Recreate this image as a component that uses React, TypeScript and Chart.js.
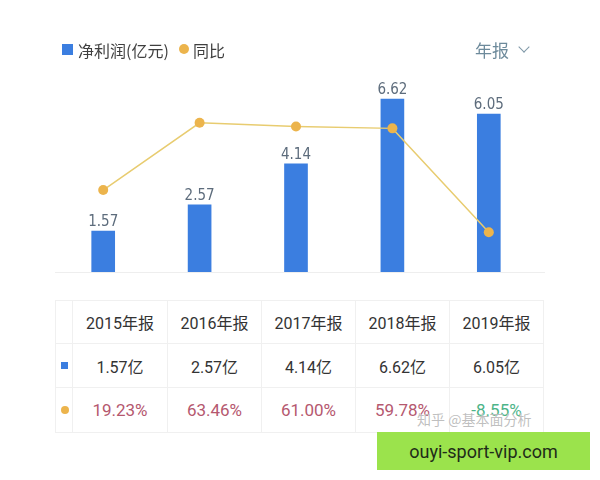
import React, { useEffect, useRef } from "react";
import { Chart, registerables } from "chart.js";

Chart.register(...registerables);

// ---- data ----
const categories = ["2015年报", "2016年报", "2017年报", "2018年报", "2019年报"];
const netProfit = [1.57, 2.57, 4.14, 6.62, 6.05];
const yoy = [19.23, 63.46, 61.0, 59.78, -8.55];
const profitAxisRange = [0, 7.35];
const yoyAxisRange = [-34.7, 91.6];
const legendLabels = ["净利润(亿元)", "同比"];
const periodLabel = "年报";
const watermark = "知乎 @基本面分析";
const siteLabel = "ouyi-sport-vip.com";

// ---- styles ----
const BLUE = "#3b7ee0";
const ORANGE = "#ecb44c";
const LINE = "#e8cc70";
const LABEL = "#5d6c7c";
const CJK = '"Noto Sans CJK SC", sans-serif';
const NUM = 'Roboto, "Noto Sans CJK SC", sans-serif';
const BORDER = "1px solid #f0f0f0";

const barLabelPlugin = {
  id: "barLabels",
  afterDatasetsDraw(chart: any) {
    const meta = chart.getDatasetMeta(0);
    const ctx = chart.ctx;
    ctx.save();
    ctx.font = '15px "DejaVu Sans Condensed", "Liberation Sans Narrow", Roboto, sans-serif';
    ctx.fillStyle = LABEL;
    ctx.textAlign = "center";
    ctx.textBaseline = "bottom";
    meta.data.forEach((el: any, i: number) => {
      ctx.fillText(netProfit[i].toFixed(2), el.x, el.y - 1);
    });
    ctx.restore();
  },
};

const baselinePlugin = {
  id: "baseline",
  beforeDatasetsDraw(chart: any) {
    const { ctx, chartArea, scales } = chart;
    const y = Math.round(scales.y.getPixelForValue(0)) + 0.5;
    ctx.save();
    ctx.strokeStyle = "#eeeeee";
    ctx.lineWidth = 1;
    ctx.beginPath();
    ctx.moveTo(chartArea.left, y);
    ctx.lineTo(chartArea.right + 8, y);
    ctx.stroke();
    ctx.restore();
  },
};

function ChartCanvas() {
  const ref = useRef<HTMLCanvasElement>(null);
  useEffect(() => {
    if (!ref.current) return;
    const chart = new Chart(ref.current, {
      type: "bar",
      data: {
        labels: categories,
        datasets: [
          {
            type: "bar",
            data: netProfit,
            yAxisID: "y",
            backgroundColor: BLUE,
            barThickness: 23,
            order: 1,
          } as any,
          {
            type: "line",
            data: yoy,
            yAxisID: "y2",
            borderColor: LINE,
            borderWidth: 1.5,
            pointRadius: 5,
            pointBackgroundColor: ORANGE,
            pointBorderWidth: 0,
            tension: 0,
            order: 0,
          } as any,
        ],
      },
      options: {
        responsive: false,
        animation: false,
        devicePixelRatio: 1,
        layout: { padding: { left: 55, right: 63, top: 80, bottom: 18 } },
        plugins: { legend: { display: false }, tooltip: { enabled: false } },
        scales: {
          x: { display: false, offset: true },
          y: { display: false, min: profitAxisRange[0], max: profitAxisRange[1] },
          y2: { display: false, min: yoyAxisRange[0], max: yoyAxisRange[1] },
        },
      },
      plugins: [baselinePlugin, barLabelPlugin],
    });
    return () => chart.destroy();
  }, []);
  return (
    <canvas
      ref={ref}
      width={600}
      height={290}
      style={{ position: "absolute", left: 0, top: 0, width: 600, height: 290 }}
    />
  );
}

function DataTable() {
  const colW = [17, 95, 94, 94, 94, 94];
  const rowH = [43, 44, 45];
  const cell = (content: React.ReactNode, key: string, style: React.CSSProperties = {}) => (
    <div
      key={key}
      style={{
        boxSizing: "border-box",
        borderRight: BORDER,
        borderBottom: BORDER,
        display: "flex",
        alignItems: "center",
        justifyContent: "center",
        ...style,
      }}
    >
      {content}
    </div>
  );
  const cells: React.ReactNode[] = [];
  cells.push(cell(null, "h0"));
  categories.forEach((c, i) =>
    cells.push(cell(c, "h" + (i + 1), { fontFamily: NUM, fontSize: 16, color: "#333" }))
  );
  cells.push(
    cell(<div style={{ width: 7, height: 7, background: BLUE, marginLeft: 1 }} />, "b0")
  );
  netProfit.forEach((v, i) =>
    cells.push(cell(v.toFixed(2) + "亿", "b" + (i + 1), { fontFamily: NUM, fontSize: 16, color: "#333" }))
  );
  cells.push(
    cell(<div style={{ width: 8, height: 8, borderRadius: 4, background: ORANGE, marginLeft: 1 }} />, "o0")
  );
  yoy.forEach((v, i) =>
    cells.push(
      cell(v.toFixed(2) + "%", "o" + (i + 1), {
        fontFamily: NUM,
        fontSize: 17,
        color: v < 0 ? "#4db489" : "#b5586f",
      })
    )
  );
  return (
    <div
      style={{
        position: "absolute",
        left: 55,
        top: 300,
        display: "grid",
        gridTemplateColumns: colW.map((w) => w + "px").join(" "),
        gridTemplateRows: rowH.map((h) => h + "px").join(" "),
        borderTop: BORDER,
        borderLeft: BORDER,
      }}
    >
      {cells}
    </div>
  );
}

export default function App() {
  return (
    <div
      style={{
        position: "fixed",
        left: 0,
        top: 0,
        width: 600,
        height: 480,
        background: "#fff",
        overflow: "hidden",
      }}
    >
      <ChartCanvas />
      {/* legend */}
      <div style={{ position: "absolute", left: 62, top: 44, width: 11, height: 11, background: BLUE }} />
      <div
        style={{
          position: "absolute",
          left: 78,
          top: 39,
          height: 22,
          lineHeight: "22px",
          fontFamily: CJK,
          fontSize: 16,
          color: "#3f3f3f",
          whiteSpace: "nowrap",
        }}
      >
        {legendLabels[0]}
      </div>
      <div
        style={{ position: "absolute", left: 179, top: 44, width: 10, height: 10, borderRadius: 5, background: ORANGE }}
      />
      <div
        style={{
          position: "absolute",
          left: 193,
          top: 39,
          height: 22,
          lineHeight: "22px",
          fontFamily: CJK,
          fontSize: 16,
          color: "#3f3f3f",
          whiteSpace: "nowrap",
        }}
      >
        {legendLabels[1]}
      </div>
      <div
        style={{
          position: "absolute",
          left: 475,
          top: 39,
          height: 22,
          lineHeight: "22px",
          fontFamily: CJK,
          fontSize: 17,
          color: "#6d8a9b",
          whiteSpace: "nowrap",
        }}
      >
        {periodLabel}
      </div>
      <div
        style={{
          position: "absolute",
          left: 520,
          top: 43,
          width: 7,
          height: 7,
          borderRight: "1.5px solid #7f98a8",
          borderBottom: "1.5px solid #7f98a8",
          transform: "rotate(45deg)",
        }}
      />
      <DataTable />
      <div
        style={{
          position: "absolute",
          left: 417,
          top: 409,
          height: 20,
          lineHeight: "20px",
          fontFamily: CJK,
          fontSize: 14,
          color: "rgba(170,170,170,0.75)",
          whiteSpace: "nowrap",
          textShadow: "0 0 1px #fff",
        }}
      >
        {watermark}
      </div>
      <div
        style={{
          position: "absolute",
          left: 377,
          top: 432,
          width: 213,
          height: 38,
          background: "#9be34c",
          display: "flex",
          alignItems: "center",
          justifyContent: "center",
          fontFamily: "Roboto, sans-serif",
          fontSize: 18,
          color: "#1f2b19",
        }}
      >
        {siteLabel}
      </div>
    </div>
  );
}
